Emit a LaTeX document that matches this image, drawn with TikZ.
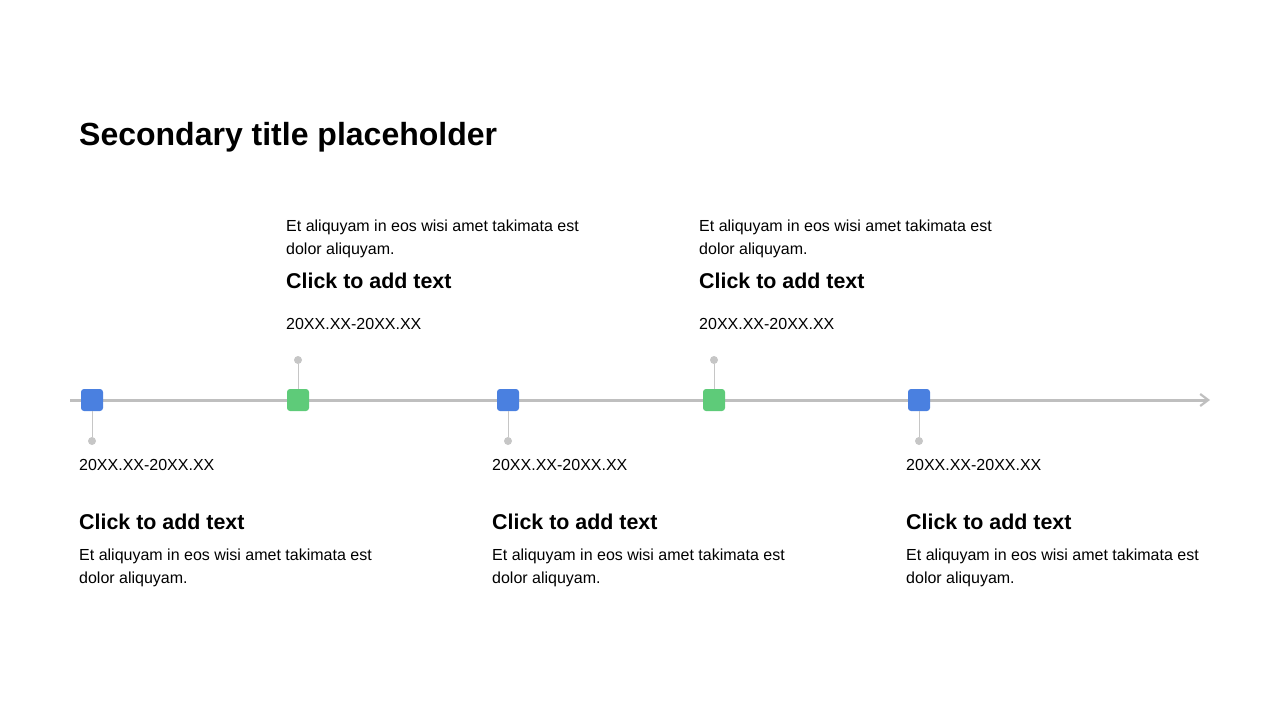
\documentclass[tikz,border=0pt]{standalone}
\usepackage{fontspec}
\setmainfont{Liberation Sans}
\usetikzlibrary{positioning, arrows.meta}
\definecolor{mblue}{HTML}{4A80E0}
\definecolor{mgreen}{HTML}{5ECB79}
\definecolor{axisgray}{HTML}{BFBFBF}
\definecolor{stemgray}{HTML}{C6C6C6}
\tikzset{
  marker/.style={rectangle, rounded corners=3pt, minimum size=22pt, inner sep=0pt},
  bluemark/.style={marker, fill=mblue},
  greenmark/.style={marker, fill=mgreen},
  pindot/.style={circle, fill=stemgray, minimum size=8pt, inner sep=0pt},
  datetxt/.style={anchor=base west, inner sep=0pt, font=\fontsize{16}{19}\selectfont},
  headtxt/.style={anchor=base west, inner sep=0pt, font=\fontsize{21.4}{25}\selectfont\bfseries},
  desctxt/.style={anchor=base west, inner sep=0pt, align=left, font=\fontsize{16}{23}\selectfont},
}
\begin{document}
\begin{tikzpicture}[x=1pt, y=-1pt]
  \useasboundingbox (0,0) rectangle (1280,720);

  \node[anchor=base west, inner sep=0pt, font=\fontsize{32}{38}\selectfont\bfseries] (title) at (79,145) {Secondary title placeholder};

  % axis
  \coordinate (a0) at (70,400);
  \coordinate (a1) at (1210,400);
  \draw[axisgray, line width=3pt, -{Straight Barb[length=8pt, width=12pt, line width=2.2pt]}] (a0) -- (a1);

  % markers
  \node[bluemark] (m1) at (92,400) {};
  \node[greenmark, right=206pt of m1.center, anchor=center] (m2) {};
  \node[bluemark, right=210pt of m2.center, anchor=center] (m3) {};
  \node[greenmark, right=206pt of m3.center, anchor=center] (m4) {};
  \node[bluemark, right=205pt of m4.center, anchor=center] (m5) {};

  % pins
  \node[pindot, below=41pt of m1.center, anchor=center] (d1) {};
  \node[pindot, above=40pt of m2.center, anchor=center] (d2) {};
  \node[pindot, below=41pt of m3.center, anchor=center] (d3) {};
  \node[pindot, above=40pt of m4.center, anchor=center] (d4) {};
  \node[pindot, below=41pt of m5.center, anchor=center] (d5) {};
  \foreach \i in {1,...,5}
    \draw[stemgray, line width=1pt] (m\i) -- (d\i);

  % upper texts (desc anchored on its last line)
  \node[desctxt] (u2) at (286,254) {Et aliquyam in eos wisi amet takimata est\\dolor aliquyam.};
  \node[headtxt] (h2) at (286,288) {Click to add text};
  \node[datetxt] (t2) at (286,329) {20XX.XX-20XX.XX};
  \node[desctxt] (u4) at (699,254) {Et aliquyam in eos wisi amet takimata est\\dolor aliquyam.};
  \node[headtxt] (h4) at (699,288) {Click to add text};
  \node[datetxt] (t4) at (699,329) {20XX.XX-20XX.XX};

  % lower texts
  \node[datetxt] (t1) at (79,470) {20XX.XX-20XX.XX};
  \node[headtxt] (h1) at (79,529) {Click to add text};
  \node[desctxt] (l1) at (79,583) {Et aliquyam in eos wisi amet takimata est\\dolor aliquyam.};
  \node[datetxt] (t3) at (492,470) {20XX.XX-20XX.XX};
  \node[headtxt] (h3) at (492,529) {Click to add text};
  \node[desctxt] (l3) at (492,583) {Et aliquyam in eos wisi amet takimata est\\dolor aliquyam.};
  \node[datetxt] (t5) at (906,470) {20XX.XX-20XX.XX};
  \node[headtxt] (h5) at (906,529) {Click to add text};
  \node[desctxt] (l5) at (906,583) {Et aliquyam in eos wisi amet takimata est\\dolor aliquyam.};
\end{tikzpicture}
\end{document}
